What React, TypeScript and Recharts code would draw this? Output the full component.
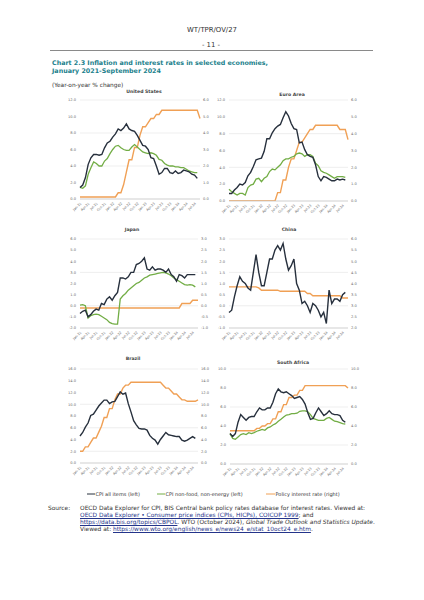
import React from 'react';
import { LineChart, Line, XAxis, YAxis, CartesianGrid } from 'recharts';

const months = [
  'Jan-21','Feb-21','Mar-21','Apr-21','May-21','Jun-21','Jul-21','Aug-21','Sep-21','Oct-21','Nov-21','Dec-21',
  'Jan-22','Feb-22','Mar-22','Apr-22','May-22','Jun-22','Jul-22','Aug-22','Sep-22','Oct-22','Nov-22','Dec-22',
  'Jan-23','Feb-23','Mar-23','Apr-23','May-23','Jun-23','Jul-23','Aug-23','Sep-23','Oct-23','Nov-23','Dec-23',
  'Jan-24','Feb-24','Mar-24','Apr-24','May-24','Jun-24','Jul-24','Aug-24','Sep-24',
];

const usCpi = [1.4,1.7,2.6,4.2,5.0,5.4,5.4,5.3,5.4,6.2,6.8,7.0, 7.5,7.9,8.5,8.3,8.6,9.1,8.5,8.3,8.2,7.7,7.1,6.5, 6.4,6.0,5.0,4.9,4.0,3.0,3.2,3.7,3.7,3.2,3.1,3.4, 3.1,3.2,3.5,3.4,3.3,3.0,2.9,2.5,null];
const usCore = [1.4,1.3,1.6,3.0,3.8,4.5,4.3,4.0,4.0,4.6,4.9,5.5, 6.0,6.4,6.5,6.2,6.0,5.9,5.9,6.3,6.6,6.3,6.0,5.7, 5.6,5.5,5.6,5.5,5.3,4.8,4.7,4.3,4.1,4.0,4.0,3.9, 3.9,3.8,3.8,3.6,3.4,3.3,3.2,3.2,null];
const usRate = [0.125,0.125,0.125,0.125,0.125,0.125,0.125,0.125,0.125,0.125,0.125,0.125, 0.125,0.125,0.375,0.375,0.875,1.625,2.375,2.375,3.125,3.125,3.875,4.375, 4.375,4.625,4.875,4.875,5.125,5.125,5.375,5.375,5.375,5.375,5.375,5.375, 5.375,5.375,5.375,5.375,5.375,5.375,5.375,5.375,4.875];

const euCpi = [0.9,0.9,1.3,1.6,2.0,1.9,2.2,3.0,3.4,4.1,4.9,5.0, 5.1,5.9,7.4,7.4,8.1,8.6,8.9,9.1,9.9,10.6,10.1,9.2, 8.6,8.5,6.9,7.0,6.1,5.5,5.3,5.2,4.3,2.9,2.4,2.9, 2.8,2.6,2.4,2.4,2.6,2.5,2.6,2.5,null];
const euCore = [1.4,1.1,0.9,0.7,0.9,0.9,0.7,1.6,1.9,2.0,2.6,2.7, 2.3,2.7,2.9,3.5,3.8,3.7,4.0,4.3,4.8,5.0,5.0,5.2, 5.3,5.6,5.7,5.6,5.3,5.5,5.5,5.3,4.5,4.2,3.6,3.4, 3.3,3.1,2.9,2.7,2.9,2.9,2.9,2.8,null];
const euRate = [0,0,0,0,0,0,0,0,0,0,0,0, 0,0,0,0,0,0,0.5,0.5,1.25,1.25,2.0,2.5, 2.5,3.0,3.5,3.5,3.75,4.0,4.25,4.25,4.5,4.5,4.5,4.5, 4.5,4.5,4.5,4.5,4.5,4.25,4.25,4.25,3.65];

const jpCpi = [-0.7,-0.5,-0.4,-1.0,-0.8,-0.5,-0.3,-0.4,0.2,0.1,0.6,0.8, 0.5,0.9,1.2,2.5,2.5,2.4,2.6,3.0,3.0,3.7,3.8,4.0, 4.3,3.3,3.2,3.5,3.2,3.3,3.3,3.2,3.0,3.3,2.8,2.6, 2.2,2.8,2.7,2.5,2.8,2.8,2.8,2.8,null];
const jpCore = [0.06,0.1,0.0,-1.1,-0.9,-0.8,-0.75,-0.8,-0.95,-1.1,-1.25,-1.5, -1.6,-1.65,-1.65,0.6,0.9,1.1,1.4,1.6,1.8,2.0,2.1,2.3, 2.5,2.6,2.75,2.8,2.85,2.9,2.95,3.0,2.95,2.85,2.7,2.5, 2.35,2.2,2.05,1.9,1.85,1.9,1.85,1.7,null];
const jpRate = [-0.1,-0.1,-0.1,-0.1,-0.1,-0.1,-0.1,-0.1,-0.1,-0.1,-0.1,-0.1, -0.1,-0.1,-0.1,-0.1,-0.1,-0.1,-0.1,-0.1,-0.1,-0.1,-0.1,-0.1, -0.1,-0.1,-0.1,-0.1,-0.1,-0.1,-0.1,-0.1,-0.1,-0.1,-0.1,-0.1, -0.1,-0.1,0.1,0.1,0.1,0.1,0.25,0.25,0.25];

const cnCpi = [-0.3,-0.2,0.4,0.9,1.3,1.1,1.0,0.8,0.7,1.5,2.3,1.5, 0.9,0.9,1.5,2.1,2.1,2.5,2.7,2.5,2.8,2.1,1.6,1.8, 2.1,1.0,0.7,0.1,0.2,0.0,-0.3,0.1,0.0,-0.2,-0.5,-0.3, -0.8,0.7,0.1,0.3,0.3,0.2,0.5,0.6,null];
const cnRate = [3.85,3.85,3.85,3.85,3.85,3.85,3.85,3.85,3.85,3.85,3.85,3.8, 3.7,3.7,3.7,3.7,3.7,3.7,3.7,3.65,3.65,3.65,3.65,3.65, 3.65,3.65,3.65,3.65,3.65,3.55,3.55,3.45,3.45,3.45,3.45,3.45, 3.45,3.45,3.45,3.45,3.45,3.45,3.35,3.35,3.35];

const brCpi = [4.6,5.2,6.1,6.8,8.1,8.3,9.0,9.7,10.2,10.7,10.7,10.1, 10.4,10.5,11.3,12.1,11.7,11.9,10.1,8.7,7.2,6.5,5.9,5.8, 5.8,5.6,4.7,4.2,3.9,3.2,4.0,4.6,5.2,4.8,4.7,4.6, 4.5,4.5,3.9,3.7,3.9,4.2,4.5,4.2,null];
const brRate = [2.0,2.0,2.75,2.75,3.5,4.25,4.25,5.25,6.25,7.75,7.75,9.25, 9.25,10.75,11.75,11.75,12.75,13.25,13.25,13.75,13.75,13.75,13.75,13.75, 13.75,13.75,13.75,13.75,13.75,13.75,13.75,13.25,12.75,12.75,12.25,11.75, 11.75,11.25,10.75,10.75,10.5,10.5,10.5,10.5,10.75];

const zaCpi = [3.2,2.9,3.2,4.4,5.2,4.9,4.6,4.9,5.0,5.0,5.5,5.9, 5.7,5.7,5.9,5.9,6.5,7.4,7.9,7.6,7.5,7.6,7.4,7.2, 6.9,7.0,7.1,6.8,6.3,5.4,4.7,4.8,5.4,5.9,5.5,5.1, 5.3,5.6,5.3,5.2,5.2,5.1,4.6,4.4,null];
const zaCore = [3.2,2.7,2.6,2.85,3.1,3.2,3.1,3.3,3.2,3.3,3.45,3.55, 3.65,3.55,3.8,3.9,4.1,4.25,4.5,4.7,4.95,5.15,5.2,5.3, 5.3,5.35,5.55,5.6,5.6,5.5,5.2,4.8,4.7,4.6,4.6,4.6, 4.8,4.9,4.7,4.5,4.45,4.35,4.25,4.2,null];
const zaRate = [3.5,3.5,3.5,3.5,3.5,3.5,3.5,3.5,3.5,3.5,3.75,3.75, 4.0,4.0,4.25,4.25,4.75,4.75,5.5,5.5,6.25,6.25,7.0,7.0, 7.25,7.25,7.75,7.75,8.25,8.25,8.25,8.25,8.25,8.25,8.25,8.25, 8.25,8.25,8.25,8.25,8.25,8.25,8.25,8.25,8.0];

const ticks0to12 = [0, 2, 4, 6, 8, 10, 12];
const ticks0to6 = [0, 1, 2, 3, 4, 5, 6];
const ticksJpL = [-2, -1, 0, 1, 2, 3, 4, 5, 6];
const ticksJpR = [-1, -0.5, 0, 0.5, 1, 1.5, 2, 2.5, 3];
const ticksCnL = [-1, -0.5, 0, 0.5, 1, 1.5, 2, 2.5, 3];
const ticksCnR = [2, 2.5, 3, 3.5, 4, 4.5, 5, 5.5, 6];
const ticks0to16 = [0, 2, 4, 6, 8, 10, 12, 14, 16];
const ticks0to10 = [0, 2, 4, 6, 8, 10];

const FONT = '"DejaVu Sans", Verdana, sans-serif';
const C_CPI = '#27303d';
const C_CORE = '#72ad45';
const C_RATE = '#f0a055';

const LW = 20, RW = 16, TM = 4, XH = 20;

function buildData(cpi: (number | null)[], core: (number | null)[] | null, rate: (number | null)[]) {
  return months.map((m, i) => ({ m, cpi: cpi[i], core: core ? core[i] : null, rate: rate[i] }));
}

const fmt = (v: number) => v.toFixed(1);

function Panel(props: {
  title: string; tx: number; ty: number; px: number; py: number; pw: number; ph: number;
  cpi: (number | null)[]; core: (number | null)[] | null; rate: (number | null)[];
  lDomain: [number, number]; lTicks: number[]; rDomain: [number, number]; rTicks: number[];
}) {
  const { title, tx, ty, px, py, pw, ph, cpi, core, rate, lDomain, lTicks, rDomain, rTicks } = props;
  const data = buildData(cpi, core, rate);
  const width = LW + pw + RW;
  const height = TM + ph + XH;
  const tickStyle = { fontSize: 3.6, fill: '#6a6a6a', fontFamily: FONT };
  return (
    <>
      <div style={{ position: 'absolute', left: tx - 50, width: 100, top: ty - 3, lineHeight: '6px', textAlign: 'center', fontSize: 4.6, fontWeight: 'bold', color: '#454545', fontFamily: FONT }}>{title}</div>
      <div style={{ position: 'absolute', left: px - LW, top: py - TM }}>
        <LineChart width={width} height={height} data={data} margin={{ top: TM, right: 0, bottom: 0, left: 0 }}>
          <CartesianGrid yAxisId="l" vertical={false} stroke="#dcdcdc" strokeWidth={0.5} />
          <XAxis dataKey="m" interval={2} height={XH} tickLine={false} axisLine={{ stroke: '#c4c4c4', strokeWidth: 0.6 }} angle={-45} textAnchor="end" tick={{ fontSize: 3.3, fill: '#6a6a6a', fontFamily: FONT }} tickSize={2} tickMargin={1} />
          <YAxis yAxisId="l" orientation="left" width={LW} domain={lDomain} ticks={lTicks} allowDataOverflow tickFormatter={fmt} axisLine={false} tickLine={false} tickSize={2} tickMargin={2} tick={tickStyle} />
          <YAxis yAxisId="r" orientation="right" width={RW} domain={rDomain} ticks={rTicks} allowDataOverflow tickFormatter={fmt} axisLine={false} tickLine={false} tickSize={1} tickMargin={2} tick={tickStyle} />
          <Line yAxisId="r" type="linear" dataKey="rate" stroke={C_RATE} strokeWidth={1.4} dot={false} isAnimationActive={false} />
          {core ? <Line yAxisId="l" type="linear" dataKey="core" stroke={C_CORE} strokeWidth={1.3} dot={false} isAnimationActive={false} /> : null}
          <Line yAxisId="l" type="linear" dataKey="cpi" stroke={C_CPI} strokeWidth={1.4} dot={false} isAnimationActive={false} />
        </LineChart>
      </div>
    </>
  );
}

function Txt(props: { x: number; y: number; fs: number; children: React.ReactNode; center?: boolean; bold?: boolean; color?: string }) {
  const { x, y, fs, children, center, bold, color } = props;
  const style: React.CSSProperties = {
    position: 'absolute', top: y - fs * 0.6, lineHeight: `${fs * 1.2}px`, fontSize: fs, fontFamily: FONT,
    color: color || '#333', fontWeight: bold ? 'bold' : 'normal', whiteSpace: 'nowrap',
  };
  if (center) { style.left = x - 100; style.width = 200; style.textAlign = 'center'; } else { style.left = x; }
  return <div style={style}>{children}</div>;
}

const linkStyle: React.CSSProperties = { color: '#24348a', textDecoration: 'underline' };

export default function App() {
  return (
    <div style={{ position: 'absolute', left: 0, top: 0, width: 424, height: 600, background: '#fff', overflow: 'hidden', fontFamily: FONT }}>
      <Txt x={212} y={30} fs={6.9} center>WT/TPR/OV/27</Txt>
      <Txt x={211} y={45.5} fs={6.9} center>- 11 -</Txt>
      <div style={{ position: 'absolute', left: 50, top: 50, width: 323, height: 0.9, background: '#8a8a8a' }} />
      <Txt x={52} y={63} fs={6.35} bold color="#1b7f8c">Chart 2.3 Inflation and interest rates in selected economies,</Txt>
      <Txt x={52} y={71} fs={6.35} bold color="#1b7f8c">January 2021-September 2024</Txt>
      <Txt x={52} y={85.5} fs={5.8}>(Year-on-year % change)</Txt>

      <Panel title="United States" tx={144} ty={92} px={80} py={100} pw={120} ph={99} cpi={usCpi} core={usCore} rate={usRate} lDomain={[0, 12]} lTicks={ticks0to12} rDomain={[0, 6]} rTicks={ticks0to6} />
      <Panel title="Euro Area" tx={292} ty={95} px={229} py={100} pw={119} ph={101} cpi={euCpi} core={euCore} rate={euRate} lDomain={[0, 12]} lTicks={ticks0to12} rDomain={[0, 6]} rTicks={ticks0to6} />
      <Panel title="Japan" tx={132} ty={230} px={80} py={239} pw={118} ph={89} cpi={jpCpi} core={jpCore} rate={jpRate} lDomain={[-2, 6]} lTicks={ticksJpL} rDomain={[-1, 3]} rTicks={ticksJpR} />
      <Panel title="China" tx={289} ty={230} px={229} py={239} pw={119} ph={89} cpi={cnCpi} core={null} rate={cnRate} lDomain={[-1, 3]} lTicks={ticksCnL} rDomain={[2, 6]} rTicks={ticksCnR} />
      <Panel title="Brazil" tx={133} ty={359} px={80} py={369} pw={118} ph={94} cpi={brCpi} core={null} rate={brRate} lDomain={[0, 16]} lTicks={ticks0to16} rDomain={[0, 16]} rTicks={ticks0to16} />
      <Panel title="South Africa" tx={293} ty={363} px={230} py={369} pw={118} ph={95} cpi={zaCpi} core={zaCore} rate={zaRate} lDomain={[0, 10]} lTicks={ticks0to10} rDomain={[0, 10]} rTicks={ticks0to10} />

      <svg style={{ position: 'absolute', left: 0, top: 488 }} width={424} height={12}>
        <line x1={87} x2={95} y1={6} y2={6} stroke={C_CPI} strokeWidth={1} />
        <text x={95.5} y={7.7} fontSize={5} fill="#333" fontFamily={FONT}>CPI all items (left)</text>
        <line x1={157} x2={165} y1={6} y2={6} stroke={C_CORE} strokeWidth={1} />
        <text x={165.5} y={7.7} fontSize={5} fill="#333" fontFamily={FONT}>CPI non-food, non-energy (left)</text>
        <line x1={266} x2={275} y1={6} y2={6} stroke={C_RATE} strokeWidth={1} />
        <text x={275.5} y={7.7} fontSize={5} fill="#333" fontFamily={FONT}>Policy interest rate (right)</text>
      </svg>

      <Txt x={48} y={509} fs={5.9}>Source:</Txt>
      <Txt x={80} y={509} fs={5.9}>OECD Data Explorer for CPI, BIS Central bank policy rates database for interest rates. Viewed at:</Txt>
      <Txt x={80} y={516} fs={5.9}><span style={linkStyle}>OECD Data Explorer • Consumer price indices (CPIs, HICPs), COICOP 1999</span>; and</Txt>
      <Txt x={80} y={523} fs={5.9}><span style={linkStyle}>https://data.bis.org/topics/CBPOL</span>. WTO (October 2024), <i>Global Trade Outlook and Statistics Update</i>.</Txt>
      <Txt x={80} y={530} fs={5.9}>Viewed at: <span style={linkStyle}>https://www.wto.org/english/news_e/news24_e/stat_10oct24_e.htm</span>.</Txt>
    </div>
  );
}
